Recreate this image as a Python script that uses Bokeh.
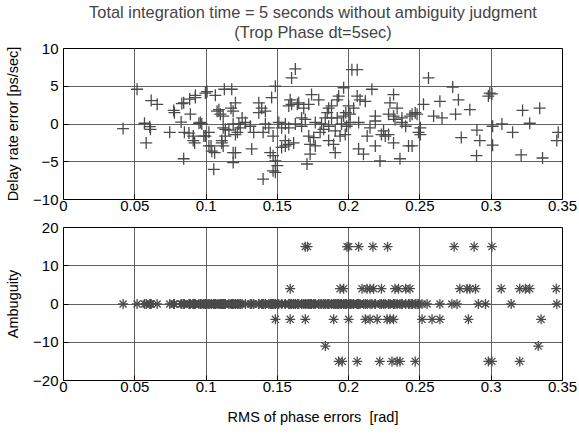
from bokeh.plotting import figure
from bokeh.layouts import column
from bokeh.models import Title, FixedTicker, Range1d, ColumnDataSource
from bokeh.embed import file_html
from bokeh.resources import INLINE

# ---------------- data ----------------
title_main = "Total integration time = 5 seconds without ambiguity judgment"
title_sub = "(Trop Phase dt=5sec)"
x_label = "RMS of phase errors\u00a0\u00a0[rad]"
y_label_top = "Delay rate error [ps/sec]"
y_label_bottom = "Ambuguity"

x_ticks = [0, 0.05, 0.1, 0.15, 0.2, 0.25, 0.3, 0.35]
x_tick_labels = ["0", "0.05", "0.1", "0.15", "0.2", "0.25", "0.3", "0.35"]
y_ticks_top = [-10, -5, 0, 5, 10]
y_ticks_bottom = [-20, -10, 0, 10, 20]

# top panel: RMS phase error [rad] vs delay-rate error [ps/sec]
rms = [
    0.0516, 0.0615, 0.0657, 0.0418, 0.0568, 0.0605, 0.058, 0.0745, 0.0773, 0.0778,
    0.0843, 0.0885, 0.0925, 0.0995, 0.1065, 0.1128, 0.118, 0.0825, 0.089, 0.0848,
    0.088, 0.091, 0.092, 0.095, 0.097, 0.0984, 0.102, 0.1035, 0.106, 0.0843,
    0.1054, 0.1077, 0.110, 0.112, 0.1175, 0.119, 0.1135, 0.116, 0.119, 0.111,
    0.119, 0.119, 0.061, 0.083,
    0.0925, 0.1007, 0.096, 0.109, 0.1206, 0.1253, 0.123, 0.124, 0.122, 0.112,
    0.1135, 0.1206, 0.1276, 0.131, 0.1334, 0.137, 0.139, 0.137, 0.1416, 0.146,
    0.1486, 0.1416, 0.140, 0.144, 0.147, 0.151, 0.153, 0.1556, 0.158, 0.1626,
    0.167, 0.158, 0.160, 0.164, 0.1685, 0.159, 0.1626, 0.160, 0.167, 0.1556,
    0.158, 0.1614, 0.1556, 0.153, 0.145, 0.147, 0.1486, 0.150, 0.147, 0.1486,
    0.140, 0.132, 0.1206, 0.104, 0.102, 0.091, 0.0995, 0.111, 0.112,
    0.2023, 0.206, 0.1965, 0.2163, 0.174, 0.179, 0.193, 0.192, 0.206, 0.208,
    0.2117, 0.2315, 0.229, 0.234, 0.165, 0.172, 0.186, 0.188, 0.200, 0.2035,
    0.185, 0.198, 0.201, 0.1696, 0.1836, 0.188, 0.192, 0.1965, 0.2187, 0.228,
    0.2315, 0.2374, 0.243, 0.2467, 0.1766, 0.181, 0.186, 0.195, 0.1986, 0.201,
    0.207, 0.215, 0.2187, 0.2325, 0.2374, 0.240, 0.249, 0.172, 0.1755, 0.180,
    0.1825, 0.1906, 0.194, 0.1976, 0.213, 0.223, 0.2257, 0.228, 0.2245, 0.173,
    0.1766, 0.186, 0.1894, 0.2187, 0.2315, 0.242, 0.173, 0.1906, 0.207, 0.2104,
    0.222, 0.236, 0.1708,
    0.256, 0.273, 0.299, 0.298, 0.3005, 0.2525, 0.264, 0.277, 0.285, 0.275,
    0.2596, 0.2655, 0.2445, 0.248, 0.322, 0.334, 0.2503, 0.2503, 0.290, 0.301,
    0.3075, 0.327, 0.315, 0.279, 0.292, 0.301, 0.347, 0.346, 0.2897, 0.321,
    0.336, 0.2445,
]
rate = [
    4.6, 3.1, 2.6, -0.6, 0.1, -0.35, -2.5, -1.1, 1.8, 1.5,
    2.8, 3.3, 3.8, 4.1, 3.8, 4.6, 4.6, 0.26, 1.3, -1.1,
    -1.2, -1.6, -2.5, 0.1, 0.0, -1.6, -1.1, -2.9, -3.8, -4.6,
    -6.0, 1.7, 1.3, 1.05, 2.1, 1.7, -0.7, -0.8, 0.0, -2.5,
    -3.8, -5.1, -0.7, 2.7,
    3.5, 4.3, 0.2, 1.9, 2.8, 0.8, 0.0, -0.5, -1.1, -0.5,
    -1.6, -1.4, 0.2, -0.3, -1.1, 2.8, 2.1, 1.5, 1.7, 3.5,
    5.0, 0.0, -1.1, -0.5, -1.6, 0.2, -0.5, 0.0, -0.5, 0.0,
    -0.3, 2.4, 2.6, 2.6, 2.1, 3.2, 7.3, 6.1, 0.8, -2.2,
    -2.7, -2.5, -2.9, -3.1, -3.8, -4.2, -4.9, -5.5, -6.2, -6.4,
    -7.3, -3.3, -3.8, -3.6, -2.9, -2.2, -1.6, -2.2, -2.9,
    7.2, 7.2, 4.8, 4.6, 3.9, 3.2, 3.7, 3.2, 3.7, 3.2,
    3.0, 3.9, 2.8, 2.1, 2.8, 2.6, 2.1, 2.4, 2.4, 2.1,
    1.5, 1.5, 1.3, 0.6, 0.8, 0.8, 0.8, 1.05, 1.05, 1.3,
    1.05, 0.8, 1.05, 1.5, 0.2, 0.0, -0.3, 0.0, -0.3, 0.2,
    0.2, -0.5, 0.4, 0.6, 0.2, -0.3, -1.1, -1.6, -1.8, -1.1,
    -0.7, -0.9, -1.6, -1.4, -1.6, -1.4, -1.6, -1.4, -0.9, -2.7,
    -2.9, -2.2, -2.7, -2.9, -2.5, -2.9, -4.0, -3.8, -3.3, -4.0,
    -4.9, -4.6, -5.3,
    6.1, 4.9, 4.1, 3.7, 4.0, 2.6, 3.0, 3.2, 1.9, 1.3,
    1.05, 0.8, 1.3, 1.3, 1.8, 2.1, -0.5, -1.4, -0.8, -0.3,
    0.0, 0.1, -1.1, -1.8, -2.2, -2.8, -1.1, -2.2, -4.2, -4.1,
    -4.5, -2.9,
]

# bottom panel: ambiguity (cycles) rows, x = RMS phase error of each point
amb_zero_tail_x = [0.2515, 0.255, 0.264, 0.2724, 0.276, 0.291, 0.296, 0.314, 0.346]
amb_p15_x = [0.1696, 0.1712, 0.1989, 0.2000, 0.207, 0.217, 0.2273, 0.274, 0.288, 0.3005]
amb_p4_x = [0.159, 0.194, 0.1965, 0.2094, 0.2129, 0.215, 0.2175, 0.223, 0.2325, 0.235,
            0.240, 0.243, 0.278, 0.283, 0.285, 0.289, 0.307, 0.320, 0.324, 0.327, 0.3456]
amb_m4_x = [0.1486, 0.159, 0.1696, 0.1895, 0.200, 0.2117, 0.215, 0.22, 0.227, 0.229,
            0.2315, 0.2515, 0.2585, 0.264, 0.284, 0.335]
amb_m11_x = [0.1837, 0.333]
amb_m15_x = [0.193, 0.1955, 0.206, 0.2218, 0.2304, 0.234, 0.236, 0.2467, 0.298, 0.3005, 0.320]

amb_zero_x = [v for v in rms if v < 0.25] + amb_zero_tail_x
amb_x = amb_zero_x + amb_p15_x + amb_p4_x + amb_m4_x + amb_m11_x + amb_m15_x
amb_y = ([0] * len(amb_zero_x) + [15] * len(amb_p15_x) + [4] * len(amb_p4_x)
         + [-4] * len(amb_m4_x) + [-11] * len(amb_m11_x) + [-15] * len(amb_m15_x))

# ---------------- style ----------------
FONT = "Liberation Sans"
FS_TICK = "15px"
FS_LABEL = "14.5px"
FS_TITLE = "16.4px"
MARK = "#4a4a4a"
GRID = "#505050"


def style(p, yticks):
    p.outline_line_color = "black"
    p.outline_line_width = 1
    p.background_fill_color = "white"
    p.border_fill_color = "white"
    for ax in (p.xaxis[0], p.yaxis[0]):
        ax.axis_line_color = None
        ax.major_tick_in = 5
        ax.major_tick_out = 0
        ax.minor_tick_line_color = None
        ax.major_tick_line_color = "black"
        ax.major_label_text_font = FONT
        ax.major_label_text_font_size = FS_TICK
        ax.major_label_text_color = "black"
        ax.axis_label_text_font = FONT
        ax.axis_label_text_font_size = FS_LABEL
        ax.axis_label_text_font_style = "normal"
        ax.axis_label_text_color = "black"
    p.xaxis.ticker = FixedTicker(ticks=x_ticks)
    p.xaxis.major_label_overrides = {t: l for t, l in zip(x_ticks, x_tick_labels)}
    p.yaxis.ticker = FixedTicker(ticks=yticks)
    p.xaxis.major_label_standoff = 1
    p.yaxis.major_label_standoff = 5
    p.grid.grid_line_color = GRID
    p.grid.grid_line_width = 1
    p.grid.grid_line_alpha = 0.9


top = figure(width=579, height=218, output_backend="svg", toolbar_location=None,
             x_range=Range1d(0, 0.35), y_range=Range1d(-10, 10),
             min_border_left=63, min_border_right=17, min_border_top=47,
             min_border_bottom=19)
style(top, y_ticks_top)
top.yaxis.axis_label = y_label_top
top.yaxis.axis_label_standoff = 9
# small spacer between frame and subtitle
top.add_layout(Title(text="\u00a0", align="center", text_font=FONT,
                     text_font_size="5px", standoff=0), "above")
top.add_layout(Title(text=title_sub, align="center", text_font=FONT,
                     text_font_size=FS_TITLE, text_font_style="normal",
                     standoff=0), "above")
top.add_layout(Title(text=title_main, align="center", text_font=FONT,
                     text_font_size=FS_TITLE, text_font_style="normal",
                     standoff=0), "above")
top.scatter(rms, rate, marker="cross", size=12, line_color=MARK, line_width=1.3)

bot = figure(width=579, height=216, output_backend="svg", toolbar_location=None,
             x_range=Range1d(0, 0.35), y_range=Range1d(-20, 20),
             min_border_left=63, min_border_right=17, min_border_top=9,
             min_border_bottom=54)
style(bot, y_ticks_bottom)
bot.yaxis.axis_label = y_label_bottom
bot.yaxis.axis_label_standoff = 9
bot.xaxis.axis_label = x_label
bot.xaxis.axis_label_standoff = 14
src = ColumnDataSource(dict(x=amb_x, y=amb_y))
bot.scatter("x", "y", source=src, marker="cross", size=10, line_color=MARK, line_width=1.3)
bot.scatter("x", "y", source=src, marker="x", size=10, line_color=MARK, line_width=1.3)

layout = column(top, bot, spacing=0)
open("out.html", "w").write(file_html(layout, INLINE))
